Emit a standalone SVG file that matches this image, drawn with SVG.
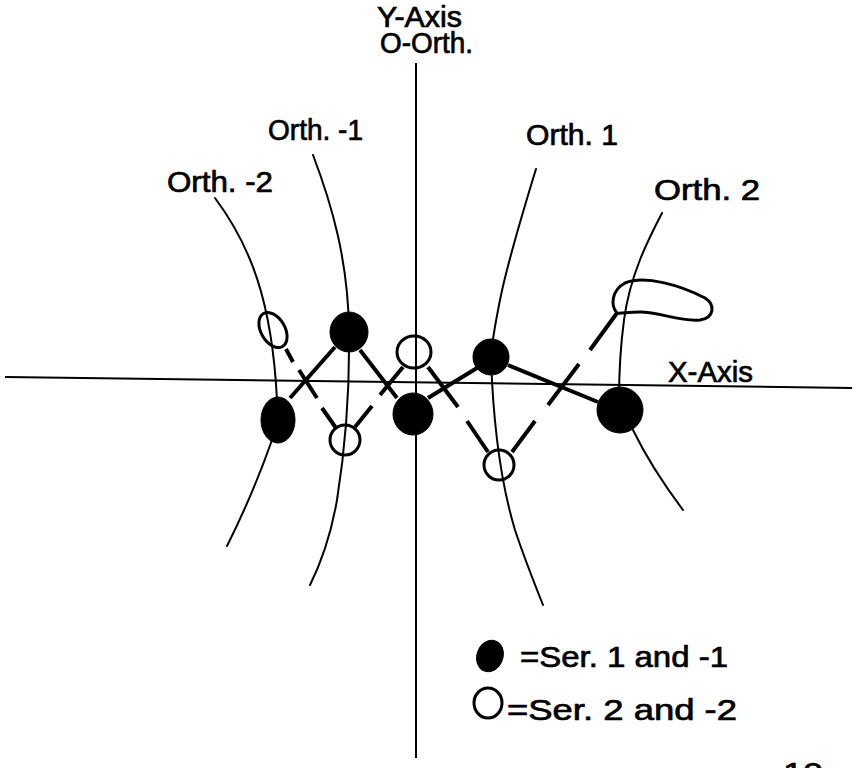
<svg xmlns="http://www.w3.org/2000/svg" width="852" height="768" viewBox="0 0 852 768">
<style>
text{font-family:"Liberation Sans","DejaVu Sans",sans-serif;font-size:29px;fill:#000;stroke:#000;stroke-width:0.7}
.axis{stroke:#000;stroke-width:2;fill:none}
.orth{stroke:#000;stroke-width:2;fill:none;stroke-linecap:round}
.conn line{stroke:#000;stroke-width:4;stroke-linecap:butt}
.filled{fill:#000;stroke:#000;stroke-width:1}
.open{fill:none;stroke:#000;stroke-width:3}
</style>
<rect width="852" height="768" fill="#fff"/>
<g id="axes">
<line class="axis" x1="416" y1="63" x2="416" y2="758"/>
<line class="axis" x1="5" y1="377" x2="852" y2="388"/>
<text x="377" y="27" textLength="85" lengthAdjust="spacingAndGlyphs">Y-Axis</text>
<text x="380" y="53" textLength="93" lengthAdjust="spacingAndGlyphs">O-Orth.</text>
<text x="668" y="382" textLength="85" lengthAdjust="spacingAndGlyphs">X-Axis</text>
</g>
<g id="orthostichies">
<g id="orth-m2">
<path class="orth" d="M215,198 C250,245 272,300 277,400"/>
<path class="orth" d="M272,440 C258,480 245,510 227,546"/>
<text x="167" y="192" textLength="106" lengthAdjust="spacingAndGlyphs">Orth. -2</text>
</g>
<g id="orth-m1">
<path class="orth" d="M313,155 C332,205 348,260 349,330 C350,400 345,450 337,500 C330,540 320,565 310,585"/>
<text x="268" y="140" textLength="95" lengthAdjust="spacingAndGlyphs">Orth. -1</text>
</g>
<g id="orth-1">
<path class="orth" d="M536,169 C522,215 508,260 500,300 C495,325 492,340 491,357 C493,420 500,480 515,530 C525,560 535,585 543,605"/>
<text x="526" y="145" textLength="92" lengthAdjust="spacingAndGlyphs">Orth. 1</text>
</g>
<g id="orth-2">
<path class="orth" d="M662,213 C648,240 630,275 624,320 C620,350 619,380 619,400"/>
<path class="orth" d="M633,430 C650,465 668,490 683,510"/>
<text x="654" y="200" textLength="106" lengthAdjust="spacingAndGlyphs">Orth. 2</text>
</g>
</g>
<g id="connectors" class="conn">
<line x1="290" y1="398" x2="335" y2="347"/>
<line x1="360" y1="350" x2="397" y2="398"/>
<line x1="428" y1="398" x2="477" y2="368"/>
<line x1="508" y1="365" x2="598" y2="402"/>
<line x1="286" y1="349" x2="293" y2="362"/>
<line x1="299" y1="370" x2="317" y2="398"/>
<line x1="322" y1="408" x2="336" y2="428"/>
<line x1="355" y1="427" x2="372" y2="406"/>
<line x1="380" y1="395" x2="403" y2="367"/>
<line x1="428" y1="367" x2="458" y2="407"/>
<line x1="467" y1="421" x2="488" y2="452"/>
<line x1="512" y1="452" x2="535" y2="421"/>
<line x1="548" y1="405" x2="579" y2="364"/>
<line x1="590" y1="350" x2="617" y2="313"/>
</g>
<g id="node-f-m2"><ellipse class="filled" cx="278" cy="420" rx="17" ry="23"/></g>
<g id="node-f-m1"><ellipse class="filled" cx="349" cy="332" rx="19" ry="20"/></g>
<g id="node-f-0"><ellipse class="filled" cx="413" cy="414" rx="20" ry="21"/></g>
<g id="node-f-1"><ellipse class="filled" cx="491" cy="357" rx="18" ry="18"/></g>
<g id="node-f-2"><ellipse class="filled" cx="620" cy="410" rx="23" ry="23"/></g>
<g id="node-o-m2"><ellipse class="open" cx="273" cy="330" rx="12" ry="19" transform="rotate(-30 273 330)"/></g>
<g id="node-o-m1"><circle class="open" cx="345" cy="440" r="15"/></g>
<g id="node-o-0"><ellipse class="open" cx="414" cy="352" rx="17" ry="16"/></g>
<g id="node-o-1"><circle class="open" cx="499" cy="465" r="15"/></g>
<g id="node-o-2"><path class="open" d="M617,313 C610,305 612,290 625,283 C645,275 680,285 705,298 C716,305 714,318 700,320 C680,322 660,312 640,312 C628,312 620,314 617,313 Z"/></g>
<g id="legend">
<ellipse class="filled" cx="490" cy="656" rx="13" ry="16" transform="rotate(20 490 656)"/>
<text x="520" y="667" textLength="208" lengthAdjust="spacingAndGlyphs">=Ser. 1 and -1</text>
<ellipse class="open" cx="488" cy="703" rx="14" ry="15"/>
<text x="507" y="720" textLength="230" lengthAdjust="spacingAndGlyphs">=Ser. 2 and -2</text>
</g>
<text x="783" y="783" font-size="32" textLength="40" lengthAdjust="spacingAndGlyphs">10</text>
</svg>
